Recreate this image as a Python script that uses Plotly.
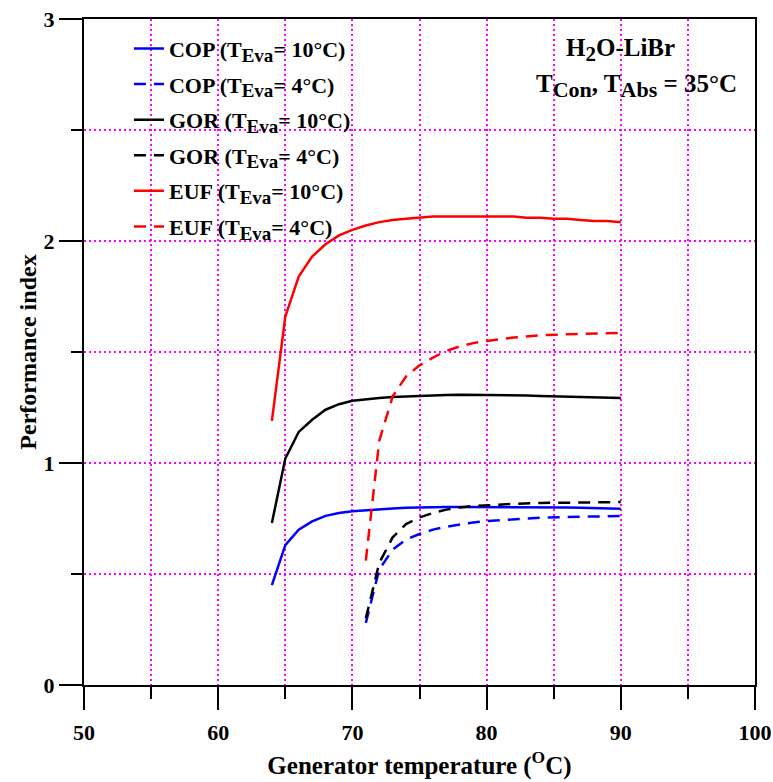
import plotly.graph_objects as go

# Generator temperature (°C)
t_eva10 = [64, 65, 66, 67, 68, 69, 70, 71, 72, 73, 74, 75, 76, 77, 78, 79, 80,
           81, 82, 83, 84, 85, 86, 87, 88, 89, 90]
t_eva4 = [71, 72, 73, 74, 75, 76, 77, 78, 79, 80, 82, 84, 86, 88, 90]

cop_10 = [0.45, 0.63, 0.70, 0.737, 0.762, 0.775, 0.783, 0.788, 0.792, 0.795, 0.798, 0.800,
          0.801, 0.802, 0.802, 0.802, 0.802, 0.802, 0.801, 0.801, 0.800, 0.800, 0.799,
          0.798, 0.797, 0.795, 0.794]
gor_10 = [0.73, 1.02, 1.14, 1.195, 1.24, 1.265, 1.28, 1.288, 1.293, 1.297, 1.300, 1.303,
          1.305, 1.306, 1.307, 1.307, 1.307, 1.306, 1.305, 1.304, 1.302, 1.300, 1.299,
          1.298, 1.296, 1.294, 1.293]
euf_10 = [1.19, 1.66, 1.84, 1.93, 1.985, 2.025, 2.05, 2.07, 2.085, 2.095, 2.10, 2.105,
          2.11, 2.11, 2.11, 2.11, 2.11, 2.11, 2.11, 2.105, 2.105, 2.10, 2.10, 2.095,
          2.09, 2.09, 2.085]

cop_4 = [0.28, 0.52, 0.61, 0.655, 0.68, 0.70, 0.713, 0.723, 0.732, 0.738, 0.747, 0.753,
         0.757, 0.759, 0.761]
gor_4 = [0.30, 0.55, 0.665, 0.725, 0.755, 0.775, 0.79, 0.80, 0.806, 0.81, 0.816, 0.82,
         0.822, 0.823, 0.824]
euf_4 = [0.56, 1.10, 1.30, 1.39, 1.44, 1.475, 1.505, 1.525, 1.54, 1.55, 1.565, 1.575,
         1.58, 1.584, 1.586]

x_ticks = [50, 60, 70, 80, 90, 100]
y_ticks = [0, 1, 2, 3]

FONT = "Liberation Serif"
GRID = "#FF00FF"
GRIDDASH = "2px,3px"


def sub(s, px):
    return f"<sub><span style='font-size:{px}px'>{s}</span></sub>"


series = [
    (f"COP (T{sub('Eva', 19)}= 10°C)", t_eva10, cop_10, "#0000FF", "solid"),
    (f"COP (T{sub('Eva', 19)}= 4°C)", t_eva4, cop_4, "#0000FF", "12px,8px"),
    (f"GOR (T{sub('Eva', 19)}= 10°C)", t_eva10, gor_10, "#000000", "solid"),
    (f"GOR (T{sub('Eva', 19)}= 4°C)", t_eva4, gor_4, "#000000", "12px,8px"),
    (f"EUF (T{sub('Eva', 19)}= 10°C)", t_eva10, euf_10, "#FF0000", "solid"),
    (f"EUF (T{sub('Eva', 19)}= 4°C)", t_eva4, euf_4, "#FF0000", "12px,8px"),
]

fig = go.Figure()
for i, (name, xs, ys, col, dash) in enumerate(series):
    fig.add_trace(go.Scatter(
        x=xs, y=ys, mode="lines", name=name, legendgroup=f"g{i}",
        line=dict(color=col, width=2.5, dash=dash),
    ))

axis_common = dict(
    showline=True, linecolor="black", linewidth=2, mirror=True,
    ticks="outside", tickcolor="black", tickwidth=2, ticklen=23,
    showgrid=True, gridcolor=GRID, gridwidth=1.5, griddash=GRIDDASH,
    zeroline=False, automargin=False,
    tickfont=dict(family=FONT, size=22, color="black", weight="bold"),
)

fig.update_xaxes(
    **axis_common, range=[50, 100], tickvals=x_ticks,
    minor=dict(dtick=5, tick0=50, ticks="outside", ticklen=12, tickwidth=2, tickcolor="black",
               showgrid=True, gridcolor=GRID, gridwidth=1.5, griddash=GRIDDASH),
    ticklabelstandoff=4,
    title=dict(text="Generator temperature (<sup>O</sup>C)",
               font=dict(family=FONT, size=25, color="black", weight="bold"), standoff=12),
)
fig.update_yaxes(
    **axis_common, range=[0, 3], tickvals=y_ticks,
    ticksuffix="\u00a0\u200a",
    minor=dict(dtick=0.5, tick0=0, ticks="outside", ticklen=11, tickwidth=2, tickcolor="black",
               showgrid=True, gridcolor=GRID, gridwidth=1.5, griddash=GRIDDASH),
    title=dict(text="Performance index",
               font=dict(family=FONT, size=24, color="black", weight="bold"), standoff=0),
)

# white panels behind legend and label (cover gridlines, under traces)
fig.add_shape(type="rect", xref="paper", yref="paper", x0=0.004, x1=0.42, y0=0.649, y1=0.997,
              fillcolor="white", line=dict(width=0), layer="between")
fig.add_shape(type="rect", xref="paper", yref="paper", x0=0.605, x1=0.997, y0=0.859, y1=0.997,
              fillcolor="white", line=dict(width=0), layer="between")

fig.add_annotation(xref="paper", yref="paper", x=0.799, y=0.953, xanchor="center", yanchor="middle",
                   text=f"H{sub('2', 21)}O-LiBr", showarrow=False,
                   font=dict(family=FONT, size=25, color="black", weight="bold"))
fig.add_annotation(xref="paper", yref="paper", x=0.823, y=0.899, xanchor="center", yanchor="middle",
                   text=f"T{sub('Con', 22)}, T{sub('Abs', 22)} = 35°C", showarrow=False,
                   font=dict(family=FONT, size=25, color="black", weight="bold"))

fig.update_layout(
    width=773, height=782,
    margin=dict(l=84, r=18, t=19, b=97),
    paper_bgcolor="white", plot_bgcolor="white",
    showlegend=True,
    legend=dict(x=0.067, y=0.987, xanchor="left", yanchor="top",
                bgcolor="rgba(0,0,0,0)", borderwidth=0, tracegroupgap=4,
                font=dict(family=FONT, size=22, color="black", weight="bold")),
)

fig.write_html("out.html", config={"displayModeBar": False},
               post_script="document.body.style.margin='0';")
